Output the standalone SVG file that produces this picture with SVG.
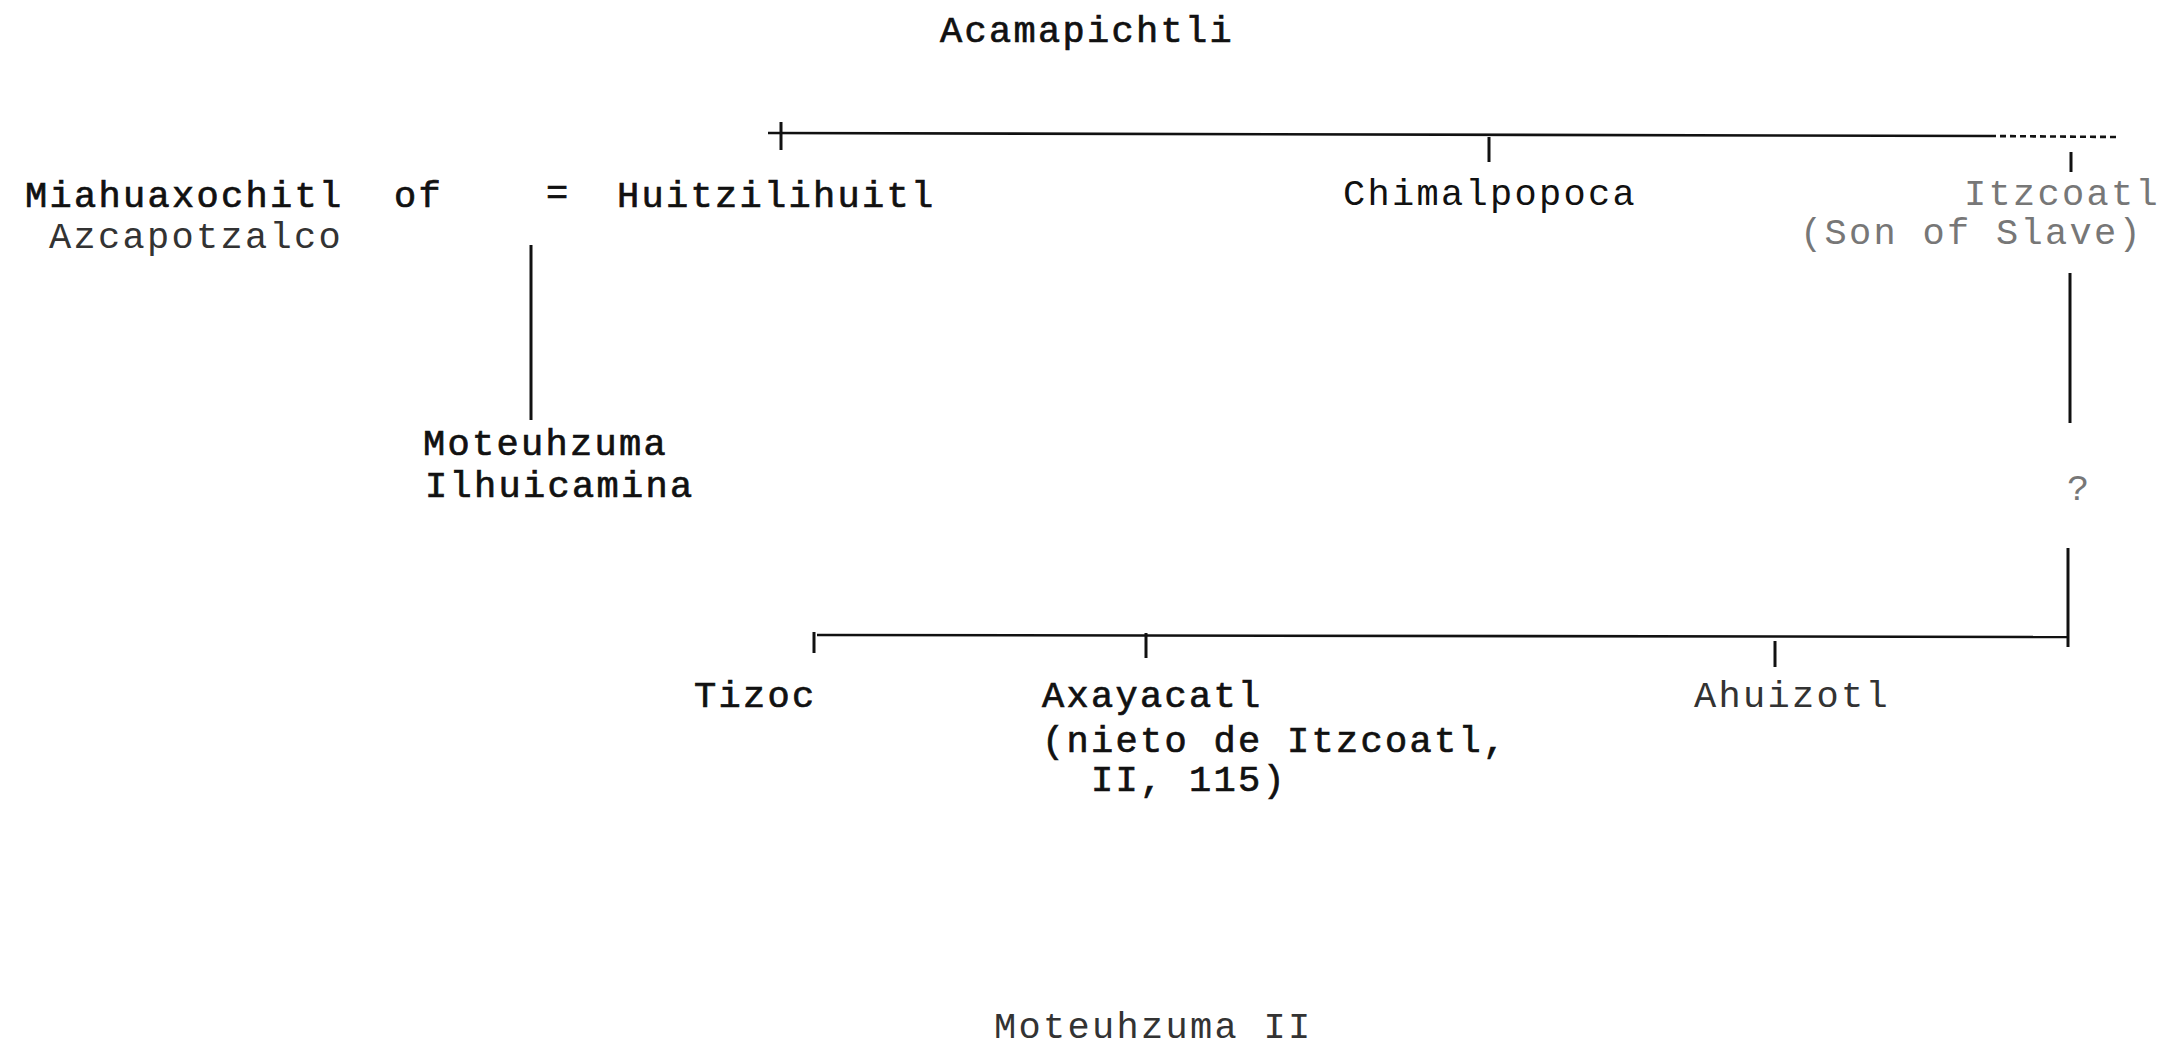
<svg xmlns="http://www.w3.org/2000/svg" width="2176" height="1055" viewBox="0 0 2176 1055">
  <style>
    .t { font-family: "Liberation Mono", "DejaVu Sans Mono", monospace; font-size: 37px; letter-spacing: 2.3px; fill: #111; }
    .dark { stroke: #111; stroke-width: 0.7px; }
    .mid { fill: #333; }
    .faint { fill: #777; }
    .line { stroke: #111; fill: none; stroke-linecap: butt; }
    .h { stroke-width: 2.6; }
    .v { stroke-width: 3; }
  </style>
  <rect width="2176" height="1055" fill="#fff"/>

  <!-- descent lines -->
  <g id="connectors">
    <!-- children of Acamapichtli -->
    <line class="line h" x1="768" y1="133" x2="1990" y2="136"/>
    <line class="line h" x1="1990" y1="136" x2="2116" y2="137" stroke-dasharray="6 4" stroke="#666"/>
    <line class="line v" x1="781" y1="122" x2="781" y2="150"/>
    <line class="line v" x1="1489" y1="137" x2="1489" y2="162"/>
    <line class="line v" x1="2071" y1="152" x2="2071" y2="172"/>
    <!-- Huitzilihuitl to Moteuhzuma Ilhuicamina -->
    <line class="line v" x1="531" y1="245" x2="531" y2="420"/>
    <!-- Itzcoatl line -->
    <line class="line v" x1="2070" y1="273" x2="2070" y2="423"/>
    <line class="line v" x1="2068" y1="548" x2="2068" y2="647"/>
    <!-- next generation -->
    <line class="line h" x1="817" y1="635" x2="2068" y2="637"/>
    <line class="line v" x1="814" y1="632" x2="814" y2="653"/>
    <line class="line v" x1="1146" y1="633" x2="1146" y2="658"/>
    <line class="line v" x1="1775" y1="641" x2="1775" y2="667"/>
  </g>

  <g id="acamapichtli"><text class="t dark" x="940" y="42">Acamapichtli</text></g>

  <g id="miahuaxochitl">
    <text class="t dark" x="25" y="207">Miahuaxochitl</text>
    <text class="t dark" x="394" y="207">of</text>
    <text class="t mid" x="49" y="248">Azcapotzalco</text>
  </g>

  <g id="marriage"><text class="t dark" x="546" y="204">=</text></g>

  <g id="huitzilihuitl"><text class="t dark" x="617" y="207">Huitzilihuitl</text></g>

  <g id="chimalpopoca"><text class="t" x="1343" y="205">Chimalpopoca</text></g>

  <g id="itzcoatl">
    <text class="t faint" x="1964" y="205">Itzcoatl</text>
    <text class="t faint" x="1800" y="244">(Son of Slave)</text>
  </g>

  <g id="moteuhzuma-ilhuicamina">
    <text class="t dark" x="423" y="455">Moteuhzuma</text>
    <text class="t dark" x="425" y="497">Ilhuicamina</text>
  </g>

  <g id="unknown"><text class="t faint" x="2067" y="500" font-size="32">?</text></g>

  <g id="tizoc"><text class="t dark" x="694" y="707">Tizoc</text></g>

  <g id="axayacatl">
    <text class="t dark" x="1042" y="707">Axayacatl</text>
    <text class="t dark" x="1042" y="752">(nieto de Itzcoatl,</text>
    <text class="t dark" x="1091" y="791">II, 115)</text>
  </g>

  <g id="ahuizotl"><text class="t mid" x="1694" y="707">Ahuizotl</text></g>

  <g id="moteuhzuma-ii"><text class="t mid" x="994" y="1038">Moteuhzuma II</text></g>
</svg>
